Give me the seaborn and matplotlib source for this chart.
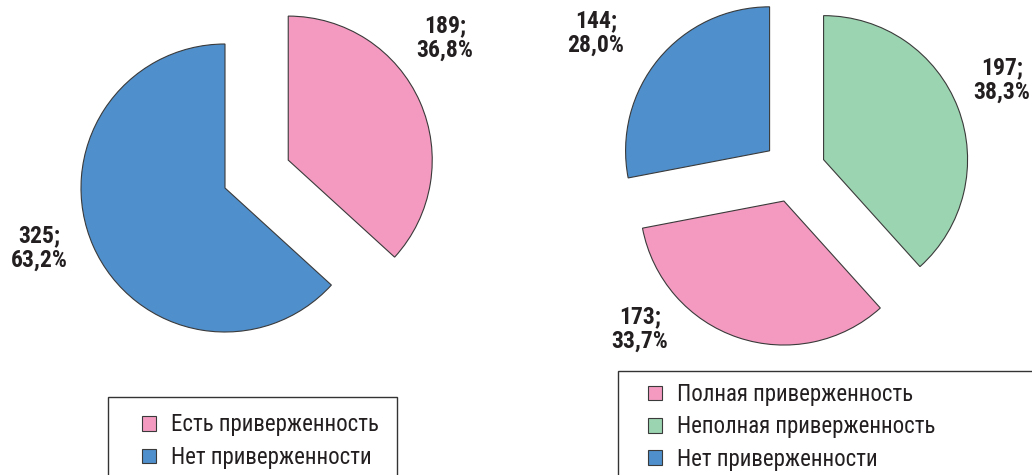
import numpy as np
import matplotlib
matplotlib.use("Agg")
import matplotlib.pyplot as plt
from matplotlib.patches import Rectangle, Patch
import seaborn as sns

sns.set_theme(style="white")
plt.rcParams['font.family'] = ['Roboto Condensed', 'Liberation Sans Narrow', 'Roboto', 'DejaVu Sans']

# left chart: adherence yes / no
left_labels = ['Есть приверженность', 'Нет приверженности']
left_counts = [189, 325]
left_colors = ['#F49AC1', '#4F8FCC']

# right chart: full / partial / none
right_labels = ['Полная приверженность', 'Неполная приверженность', 'Нет приверженности']
right_counts = [173, 197, 144]
right_colors = ['#F49AC1', '#9BD4B0', '#4F8FCC']

txt = '#231F20'
edge = '#3a3a3a'


def pct_text(n, total):
    return f"{n};\n{n / total * 100:.1f}%".replace('.', ',')


fig = plt.figure(figsize=(10.32, 4.75), dpi=100)
W, H = 1032, 475
R = 144.0  # pie radius in pixels
lab = dict(ha='center', va='center', fontsize=17, fontweight='bold', color=txt,
           linespacing=1.05)

# ---- left pie ----
axL = fig.add_axes([0, 0, 516 / W, 1])
order = [0, 1]  # clockwise from top: pink, blue
axL.pie([left_counts[i] for i in order], colors=[left_colors[i] for i in order],
        explode=[0.48, 0], startangle=90, counterclock=False, radius=1,
        wedgeprops=dict(edgecolor=edge, linewidth=0.8))
cx, cy = 225 / R, 188 / R
axL.set_xlim(-cx, 516 / R - cx)
axL.set_ylim(-(H / R - cy), cy)
axL.set_aspect('auto')
tot = sum(left_counts)
axL.text((445 - 225) / R, (188 - 38) / R, pct_text(left_counts[0], tot), **lab)
axL.text((39 - 225) / R, (188 - 248) / R, pct_text(left_counts[1], tot), **lab)

# ---- right pie ----
axR = fig.add_axes([516 / W, 0, 516 / W, 1])
order = [1, 0, 2]  # clockwise from top: green, pink, blue
axR.pie([right_counts[i] for i in order], colors=[right_colors[i] for i in order],
        explode=[0.22, 0.22, 0.22], startangle=90, counterclock=False, radius=1,
        wedgeprops=dict(edgecolor=edge, linewidth=0.8))
cx, cy = 278 / R, 171 / R
axR.set_xlim(-cx, 516 / R - cx)
axR.set_ylim(-(H / R - cy), cy)
axR.set_aspect('auto')
tot = sum(right_counts)
axR.text((596 - 794) / R, (171 - 33) / R, pct_text(right_counts[2], tot), **lab)
axR.text((1002 - 794) / R, (171 - 80) / R, pct_text(right_counts[1], tot), **lab)
axR.text((640 - 794) / R, (171 - 329) / R, pct_text(right_counts[0], tot), **lab)

# ---- legend boxes (cut by the figure edge, as in the source) ----
fig.patches.append(Rectangle((108 / W, -0.1), (397 - 108) / W, 0.1 + (H - 397) / H,
                             transform=fig.transFigure, fill=False, edgecolor='#333333',
                             linewidth=1.0))
fig.patches.append(Rectangle((618 / W, -0.1), 1.0, 0.1 + (H - 371) / H,
                             transform=fig.transFigure, fill=False, edgecolor='#333333',
                             linewidth=1.0))

leg = dict(loc='upper left', frameon=False, fontsize=16.5, handlelength=0.6,
           handleheight=0.6, handletextpad=0.65, labelspacing=0.41, borderpad=0,
           borderaxespad=0, labelcolor=txt)
hL = [Patch(facecolor=c, edgecolor=edge, linewidth=0.8) for c in left_colors]
fig.legend(hL, left_labels, bbox_to_anchor=(142 / W, 1 - 413.5 / H), **leg)
hR = [Patch(facecolor=c, edgecolor=edge, linewidth=0.8) for c in right_colors]
fig.legend(hR, right_labels, bbox_to_anchor=(648 / W, 1 - 383 / H), **leg)

fig.savefig('out.png', dpi=100)
